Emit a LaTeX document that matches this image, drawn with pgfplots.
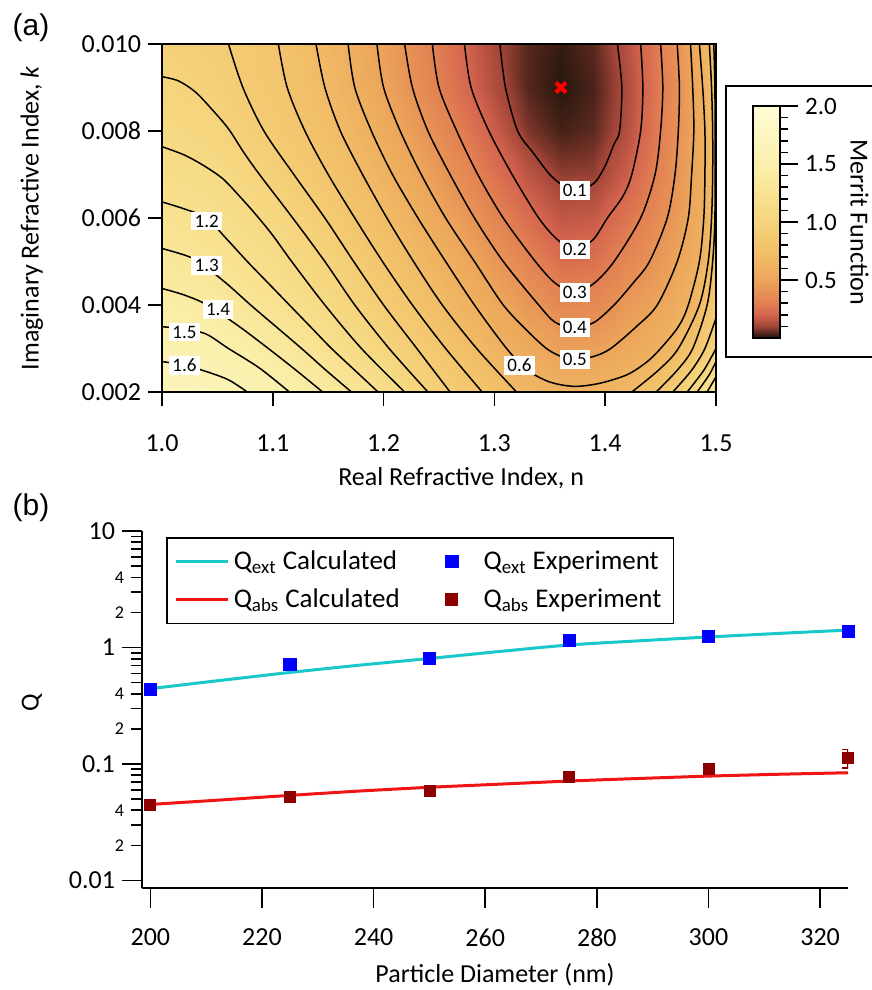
\documentclass[border=0pt]{standalone}
\usepackage{fontspec}
\setmainfont{Carlito}
\newfontfamily\panelfont{Liberation Sans}
\usepackage{pgfplots}
\pgfplotsset{compat=1.18}

\definecolor{cyanline}{RGB}{25,200,200}
\definecolor{redline}{RGB}{240,20,20}
\definecolor{darkred}{RGB}{140,0,0}
\definecolor{expblue}{RGB}{0,0,255}

\pgfplotsset{
  colormap={merit}{rgb255(0pt)=(25,18,8); rgb255(5pt)=(95,42,32); rgb255(10pt)=(160,68,55);
    rgb255(20pt)=(212,100,78); rgb255(30pt)=(226,128,82); rgb255(50pt)=(236,165,90);
    rgb255(75pt)=(242,192,105); rgb255(100pt)=(245,212,124); rgb255(125pt)=(248,227,146);
    rgb255(150pt)=(250,240,172); rgb255(200pt)=(255,252,215)},
  ct/.style={black, line width=0.75pt, smooth, tension=0.5, mark=none},
  lineleg/.style={legend image code/.code={\draw[##1] (0pt,0pt) -- (26pt,0pt);}},
  markleg/.style={legend image code/.code={\path[draw=none, fill=none] (0pt,-1pt) rectangle (26pt,1pt); \draw[##1, only marks] plot coordinates {(12pt,0pt)};}},
}
\newcommand{\tickfont}{\fontsize{13}{15}\selectfont}
\tikzset{lbl/.style={fill=white, inner sep=1.6pt, font=\fontsize{9.5}{11}\selectfont}}

\begin{document}
\begin{tikzpicture}
\useasboundingbox (0pt,0pt) rectangle (436pt,-495pt);
\node[font=\panelfont\fontsize{15}{18}\selectfont] at (15.5pt,-14pt) {(a)};
\node[font=\panelfont\fontsize{15}{18}\selectfont] at (15.5pt,-254pt) {(b)};

% ---------- (a) merit function map ----------
\begin{axis}[
  at={(81pt,-196pt)}, anchor=south west, scale only axis,
  width=277pt, height=174pt,
  xmin=1.0, xmax=1.5, ymin=0.002, ymax=0.010,
  scaled y ticks=false, scaled x ticks=false,
  xtick={1.0,1.1,1.2,1.3,1.4,1.5}, xticklabels={1.0,1.1,1.2,1.3,1.4,1.5},
  ytick={0.002,0.004,0.006,0.008,0.010},
  yticklabels={0.002,0.004,0.006,0.008,0.010},
  xtick pos=bottom, ytick pos=left, tick align=outside,
  major tick length=7pt, tick style={black, line width=0.8pt},
  axis line style={line width=1pt},
  tick label style={font=\tickfont}, label style={font=\tickfont},
  xticklabel style={yshift=-11pt},
  xlabel={Real Refractive Index, n},
  ylabel={Imaginary Refractive Index, \textit{k}},
  xlabel style={at={(axis description cs:0.54,-0.247)}, anchor=center},
  ylabel style={at={(axis description cs:-0.235,0.5)}, anchor=center},
  colormap name=merit, point meta min=0, point meta max=2,
  colorbar,
  colorbar style={
    at={(368pt,-53pt)}, anchor=north west,
    scale only axis, width=13.5pt, height=116pt,
    ytick={0.5,1,1.5,2}, yticklabels={0.5,1.0,1.5,2.0},
    minor ytick={0.1,0.2,0.3,0.4,0.6,0.7,0.8,0.9,1.1,1.2,1.3,1.4,1.6,1.7,1.8,1.9},
    ytick pos=right, yticklabel pos=right, tick align=outside,
    major tick length=9pt, minor tick length=4pt,
    tick style={black, line width=0.8pt},
    yticklabel style={font=\fontsize{12.5}{14}\selectfont},
    ylabel={Merrit Function}, ylabel style={font=\tickfont, rotate=180},
    axis line style={line width=0.8pt},
  },
  axis on top,
]
\addplot[surf, shader=interp, mesh/cols=16, point meta=explicit]
  table[x=n, y=k, meta=f] {
n k f
1.00 0.002 1.68
1.05 0.002 1.628
1.10 0.002 1.539
1.15 0.002 1.381
1.20 0.002 1.179
1.25 0.002 0.95
1.30 0.002 0.765
1.33 0.002 0.669
1.36 0.002 0.615
1.39 0.002 0.621
1.42 0.002 0.687
1.44 0.002 0.773
1.46 0.002 0.893
1.48 0.002 1.067
1.49 0.002 1.178
1.50 0.002 1.30
1.00 0.003 1.56
1.05 0.003 1.51
1.10 0.003 1.387
1.15 0.003 1.211
1.20 0.003 1.02
1.25 0.003 0.823
1.30 0.003 0.641
1.33 0.003 0.547
1.36 0.003 0.474
1.39 0.003 0.476
1.42 0.003 0.533
1.44 0.003 0.578
1.46 0.003 0.6625
1.48 0.003 0.809
1.49 0.003 0.9
1.50 0.003 1.0
1.00 0.004 1.443
1.05 0.004 1.377
1.10 0.004 1.243
1.15 0.004 1.089
1.20 0.004 0.9
1.25 0.004 0.711
1.30 0.004 0.531
1.33 0.004 0.431
1.36 0.004 0.345
1.39 0.004 0.350
1.42 0.004 0.431
1.44 0.004 0.482
1.46 0.004 0.546
1.48 0.004 0.65
1.49 0.004 0.771
1.50 0.004 0.90
1.00 0.005 1.333
1.05 0.005 1.261
1.10 0.005 1.143
1.15 0.005 0.988
1.20 0.005 0.796
1.25 0.005 0.621
1.30 0.005 0.431
1.33 0.005 0.324
1.36 0.005 0.238
1.39 0.005 0.246
1.42 0.005 0.338
1.44 0.005 0.4
1.46 0.005 0.48
1.48 0.005 0.575
1.49 0.005 0.663
1.50 0.005 0.84
1.00 0.006 1.235
1.05 0.006 1.177
1.10 0.006 1.053
1.15 0.006 0.889
1.20 0.006 0.710
1.25 0.006 0.524
1.30 0.006 0.331
1.33 0.006 0.231
1.36 0.006 0.160
1.39 0.006 0.170
1.42 0.006 0.26
1.44 0.006 0.333
1.46 0.006 0.421
1.48 0.006 0.536
1.49 0.006 0.614
1.50 0.006 0.82
1.00 0.007 1.15
1.05 0.007 1.102
1.10 0.007 0.961
1.15 0.007 0.8
1.20 0.007 0.630
1.25 0.007 0.438
1.30 0.007 0.252
1.33 0.007 0.155
1.36 0.007 0.089
1.39 0.007 0.095
1.42 0.007 0.185
1.44 0.007 0.276
1.46 0.007 0.383
1.48 0.007 0.517
1.49 0.007 0.6
1.50 0.007 0.81
1.00 0.008 1.08
1.05 0.008 1.013
1.10 0.008 0.878
1.15 0.008 0.734
1.20 0.008 0.558
1.25 0.008 0.362
1.30 0.008 0.181
1.33 0.008 0.074
1.36 0.008 0.031
1.39 0.008 0.049
1.42 0.008 0.137
1.44 0.008 0.244
1.46 0.008 0.363
1.48 0.008 0.5
1.49 0.008 0.6
1.50 0.008 0.81
1.00 0.009 1.02
1.05 0.009 0.947
1.10 0.009 0.833
1.15 0.009 0.689
1.20 0.009 0.5
1.25 0.009 0.3
1.30 0.009 0.132
1.33 0.009 0.043
1.36 0.009 0.01
1.39 0.009 0.036
1.42 0.009 0.126
1.44 0.009 0.233
1.46 0.009 0.353
1.48 0.009 0.511
1.49 0.009 0.625
1.50 0.009 0.81
1.00 0.010 0.96
1.05 0.010 0.91
1.10 0.010 0.811
1.15 0.010 0.662
1.20 0.010 0.476
1.25 0.010 0.279
1.30 0.010 0.116
1.33 0.010 0.044
1.36 0.010 0.02
1.39 0.010 0.048
1.42 0.010 0.143
1.44 0.010 0.244
1.46 0.010 0.367
1.48 0.010 0.538
1.49 0.010 0.656
1.50 0.010 0.82
};
% contour lines, 1.6 ... 0.1
\addplot[ct] coordinates {(1.0,0.0027) (1.02,0.00262) (1.04,0.00247) (1.06,0.00228) (1.077,0.002)};
\addplot[ct] coordinates {(1.0,0.0035) (1.02,0.00345) (1.04,0.00333) (1.06,0.0030) (1.088,0.00255) (1.115,0.002)};
\addplot[ct] coordinates {(1.0,0.00438) (1.02,0.00423) (1.041,0.0040) (1.07,0.0035) (1.096,0.0030) (1.121,0.0025) (1.145,0.002)};
\addplot[ct] coordinates {(1.0,0.0053) (1.02,0.00515) (1.033,0.0050) (1.058,0.0045) (1.080,0.0040) (1.103,0.0035) (1.126,0.0030) (1.148,0.0025) (1.171,0.002)};
\addplot[ct] coordinates {(1.0,0.00637) (1.02,0.00621) (1.040,0.0060) (1.059,0.0055) (1.077,0.0050) (1.096,0.0045) (1.115,0.0040) (1.134,0.0035) (1.153,0.0030) (1.174,0.0025) (1.195,0.002)};
\addplot[ct] coordinates {(1.0,0.00764) (1.02,0.00745) (1.038,0.0072) (1.055,0.0069) (1.07,0.0065) (1.084,0.0061) (1.100,0.0056) (1.117,0.0050) (1.147,0.0040) (1.180,0.0030) (1.219,0.002)};
\addplot[ct] coordinates {(1.0,0.00925) (1.015,0.00915) (1.03,0.0089) (1.045,0.0085) (1.060,0.00805) (1.074,0.0075) (1.088,0.0070) (1.118,0.0060) (1.147,0.0050) (1.174,0.0040) (1.205,0.0030) (1.240,0.002)};
\addplot[ct] coordinates {(1.060,0.010) (1.073,0.009) (1.092,0.008) (1.119,0.007) (1.147,0.006) (1.173,0.005) (1.200,0.004) (1.230,0.003) (1.260,0.002)};
\addplot[ct] coordinates {(1.105,0.010) (1.113,0.009) (1.129,0.008) (1.150,0.007) (1.174,0.006) (1.199,0.005) (1.226,0.004) (1.256,0.003) (1.289,0.002)};
\addplot[ct] coordinates {(1.139,0.010) (1.147,0.009) (1.161,0.008) (1.181,0.007) (1.203,0.006) (1.227,0.005) (1.253,0.004) (1.284,0.003) (1.320,0.002)};
\addplot[ct] coordinates {(1.424,0.002) (1.448,0.0025) (1.466,0.003) (1.485,0.004) (1.493,0.005) (1.496,0.006) (1.497,0.007) (1.497,0.008) (1.496,0.009) (1.494,0.010)};
\addplot[ct] coordinates {(1.446,0.002) (1.465,0.0025) (1.479,0.003) (1.492,0.004) (1.497,0.005) (1.499,0.006) (1.4993,0.0075) (1.499,0.009) (1.498,0.010)};
\addplot[ct] coordinates {(1.461,0.002) (1.478,0.0025) (1.490,0.003) (1.5,0.0037)};
\addplot[ct] coordinates {(1.474,0.002) (1.489,0.0025) (1.5,0.0030)};
\addplot[ct] coordinates {(1.483,0.002) (1.494,0.0024) (1.5,0.0027)};
\addplot[ct] coordinates {(1.492,0.002) (1.5,0.00235)};
\addplot[ct] coordinates {(1.168,0.010) (1.174,0.009) (1.189,0.008) (1.208,0.007) (1.231,0.006) (1.256,0.005) (1.282,0.004) (1.311,0.003) (1.330,0.0025) (1.350,0.00223) (1.372,0.00213) (1.395,0.0022) (1.420,0.0024) (1.438,0.0027) (1.450,0.003) (1.466,0.0035) (1.475,0.004) (1.485,0.005) (1.489,0.006) (1.490,0.007) (1.490,0.008) (1.488,0.009) (1.485,0.010)};
\addplot[ct] coordinates {(1.194,0.010) (1.200,0.009) (1.215,0.008) (1.234,0.007) (1.256,0.006) (1.282,0.005) (1.308,0.004) (1.330,0.0034) (1.347,0.0030) (1.360,0.00282) (1.373,0.00275) (1.390,0.00282) (1.405,0.0030) (1.428,0.0035) (1.447,0.004) (1.465,0.005) (1.475,0.006) (1.478,0.007) (1.480,0.008) (1.479,0.009) (1.477,0.010)};
\addplot[ct] coordinates {(1.219,0.010) (1.226,0.009) (1.240,0.008) (1.260,0.007) (1.282,0.006) (1.308,0.005) (1.340,0.004) (1.355,0.0036) (1.373,0.00348) (1.390,0.0036) (1.408,0.004) (1.425,0.0045) (1.440,0.005) (1.456,0.006) (1.463,0.007) (1.466,0.008) (1.467,0.009) (1.465,0.010)};
\addplot[ct] coordinates {(1.244,0.010) (1.250,0.009) (1.266,0.008) (1.285,0.007) (1.308,0.006) (1.337,0.005) (1.355,0.0045) (1.373,0.00429) (1.390,0.0045) (1.408,0.005) (1.432,0.006) (1.445,0.007) (1.450,0.008) (1.452,0.009) (1.450,0.010)};
\addplot[ct] coordinates {(1.273,0.010) (1.279,0.009) (1.295,0.008) (1.316,0.007) (1.340,0.006) (1.357,0.0055) (1.373,0.00528) (1.389,0.0055) (1.402,0.006) (1.416,0.0065) (1.424,0.007) (1.432,0.008) (1.434,0.009) (1.432,0.010)};
\addplot[ct] coordinates {(1.305,0.010) (1.310,0.009) (1.321,0.008) (1.335,0.0075) (1.350,0.0070) (1.362,0.00675) (1.375,0.00665) (1.390,0.0068) (1.400,0.0072) (1.408,0.0077) (1.413,0.008) (1.415,0.009) (1.411,0.010)};
% contour labels
\node[lbl] at (axis cs:1.0403,0.00593) {1.2};
\node[lbl] at (axis cs:1.0403,0.00491) {1.3};
\node[lbl] at (axis cs:1.0506,0.00389) {1.4};
\node[lbl] at (axis cs:1.0203,0.00338) {1.5};
\node[lbl] at (axis cs:1.0203,0.00261) {1.6};
\node[lbl] at (axis cs:1.3726,0.00663) {0.1};
\node[lbl] at (axis cs:1.3726,0.00528) {0.2};
\node[lbl] at (axis cs:1.3726,0.00429) {0.3};
\node[lbl] at (axis cs:1.3726,0.00348) {0.4};
\node[lbl] at (axis cs:1.3726,0.00275) {0.5};
\node[lbl] at (axis cs:1.3226,0.00261) {0.6};
% best fit
\addplot[only marks, mark=x, mark size=3.5pt, red, line width=2.2pt] coordinates {(1.36,0.009)};
\end{axis}
\draw[line width=0.8pt] (363pt,-43pt) rectangle (470pt,-178.5pt);

% ---------- (b) efficiencies ----------
\begin{axis}[
  at={(71pt,-444pt)}, anchor=south west, scale only axis,
  width=353pt, height=178.5pt,
  xmin=198.5, xmax=325, ymode=log, ymin=0.0086, ymax=10,
  axis x line*=bottom, axis y line*=left, axis line style={line width=1pt, -},
  xtick={200,220,240,260,280,300,320}, xticklabels={200,220,240,260,280,300,320},
  ytick={0.01,0.1,1,10}, yticklabels={0.01,0.1,1,10},
  minor ytick={0.02,0.03,0.04,0.05,0.06,0.07,0.08,0.09,0.2,0.3,0.4,0.5,0.6,0.7,0.8,0.9,2,3,4,5,6,7,8,9},
  extra y ticks={0.02,0.04,0.2,0.4,2,4}, extra y tick labels={2,4,2,4,2,4},
  extra y tick style={major tick length=5.5pt, tick label style={font=\fontsize{9}{10}\selectfont}},
  tick align=outside, major tick length=10pt, minor tick length=5.5pt,
  tick style={black, line width=0.8pt},
  tick label style={font=\tickfont}, label style={font=\tickfont},
  xticklabel style={yshift=-7pt},
  xlabel={Particle Diameter (nm)}, ylabel={Q},
  xlabel style={at={(axis description cs:0.5,-0.244)}, anchor=center},
  ylabel style={at={(axis description cs:-0.156,0.518)}, anchor=center},
  legend columns=2, legend cell align=left,
  legend style={at={(0,1)}, anchor=north west, xshift=12pt, yshift=-3pt,
    draw=black, line width=0.8pt, font=\fontsize{13.5}{16}\selectfont,
    inner xsep=4pt, inner ysep=4.5pt, row sep=4pt,
    /tikz/every even column/.append style={column sep=12pt}},
]
\addplot[cyanline, line width=1.5pt, smooth, lineleg]
  coordinates {(200,0.443) (212.5,0.521) (225,0.61) (237.5,0.705) (250,0.804) (262.5,0.923) (275,1.05) (287.5,1.14) (300,1.23) (312.5,1.32) (325,1.41)};
\addlegendentry{Q\textsubscript{ext} Calculated}
\addplot[only marks, mark=square*, expblue, mark size=3pt, markleg]
  coordinates {(200,0.438) (225,0.719) (250,0.804) (275,1.14) (300,1.24) (325,1.37)};
\addlegendentry{Q\textsubscript{ext} Experiment}
\addplot[redline, line width=1.5pt, smooth, lineleg]
  coordinates {(200,0.0449) (212.5,0.049) (225,0.0537) (237.5,0.0585) (250,0.063) (262.5,0.067) (275,0.0713) (287.5,0.075) (300,0.0786) (312.5,0.0815) (325,0.084)};
\addlegendentry{Q\textsubscript{abs} Calculated}
\addplot[forget plot, only marks, mark=none, darkred,
  error bars/.cd, y dir=both, y explicit,
  error bar style={line width=0.8pt, darkred},
  error mark options={rotate=90, mark size=3pt, darkred, line width=0.8pt}]
  coordinates {(325,0.113) +- (0,0.0205)};
\addplot[only marks, mark=square*, darkred, mark size=2.75pt, markleg]
  coordinates {(200,0.0449) (225,0.0522) (250,0.0582) (275,0.0781) (300,0.091) (325,0.113)};
\addlegendentry{Q\textsubscript{abs} Experiment}
\end{axis}
\end{tikzpicture}
\end{document}
